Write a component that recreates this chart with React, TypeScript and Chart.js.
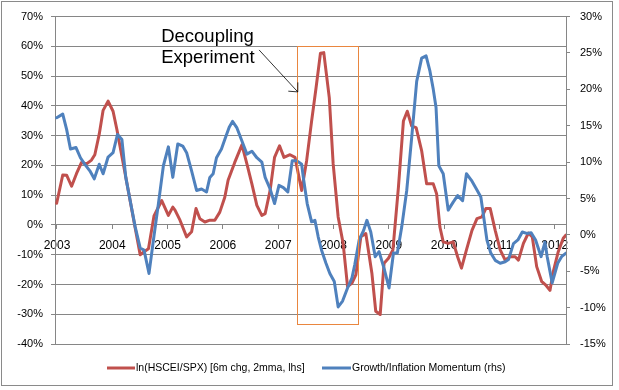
import React, { useEffect, useRef } from 'react';
import { Chart, registerables } from 'chart.js';

Chart.register(...registerables);

// ---- data ----
const yearTicks = [2003, 2004, 2005, 2006, 2007, 2008, 2009, 2010, 2011, 2012];

const hsceiDates = [
  2003.03, 2003.14, 2003.21, 2003.30, 2003.39, 2003.48, 2003.57, 2003.66, 2003.72, 2003.80, 2003.87, 2003.96,
  2004.05, 2004.12, 2004.28, 2004.36, 2004.45, 2004.54, 2004.61, 2004.69, 2004.79, 2004.93,
  2005.05, 2005.13, 2005.17, 2005.26, 2005.38, 2005.47, 2005.55, 2005.62, 2005.71, 2005.80, 2005.89, 2005.98,
  2006.07, 2006.13, 2006.25, 2006.38, 2006.47, 2006.56, 2006.65, 2006.74, 2006.80, 2006.89, 2006.97,
  2007.06, 2007.14, 2007.25, 2007.34, 2007.46, 2007.55, 2007.64, 2007.72, 2007.80, 2007.86, 2007.96,
  2008.03, 2008.12, 2008.21, 2008.29, 2008.37, 2008.44, 2008.53, 2008.62, 2008.73, 2008.80, 2008.88, 2008.95,
  2009.03, 2009.11, 2009.21, 2009.30, 2009.37, 2009.45, 2009.53, 2009.63, 2009.72, 2009.84, 2009.90, 2009.96,
  2010.02, 2010.11, 2010.20, 2010.28, 2010.35, 2010.44, 2010.54, 2010.63, 2010.72, 2010.79, 2010.87, 2010.96,
  2011.05, 2011.14, 2011.23, 2011.32, 2011.38, 2011.47, 2011.56, 2011.63, 2011.71, 2011.80, 2011.87, 2011.95,
  2012.01, 2012.10, 2012.19, 2012.24,
];
const hsceiValues = [
  7.3, 16.8, 16.7, 13, 17.3, 21, 20.5, 21.8, 23.6, 30.5, 38.5, 41.6,
  38.2, 32, 16, 8, -1, -10, -9, -8, 3, 8.2,
  3.2, 6, 5, 1.6, -4, -2.3, 5.5, 2.1, 1, 1.6, 1.6, 4.3,
  9.3, 15, 21, 26.9, 20.5, 13.8, 6.6, 3.2, 3.8, 11.6, 22.7,
  26.6, 22.7, 23.6, 22.7, 11.6, 21.6, 34.9, 46, 57.7, 57.9, 42.7,
  20.5, 2.7, -6.2, -20.7, -19.5, -16.8, -4, -2.9, -16.2, -29, -30.1, -12.9,
  -11.2, -8.4, 12.7, 34.9, 38.2, 33.2, 32.7, 24.9, 13.8, 13.8, 10.5, -0.7,
  -5.7, -6.2, -5.7, -10.7, -14.5, -8.4, -1.8, 2.1, 2.7, 5.5, 5.5, -1.8,
  -8.4, -11.8, -10.7, -10.7, -11.8, -6.2, -2.7, -4, -14, -19, -20.1, -22,
  -15.7, -9, -4.5, -3.4,
];

const momentumDates = [
  2003.03, 2003.14, 2003.21, 2003.28, 2003.38, 2003.46, 2003.54, 2003.63, 2003.71, 2003.80, 2003.87, 2003.96,
  2004.05, 2004.13, 2004.21, 2004.28, 2004.36, 2004.45, 2004.54, 2004.61, 2004.70, 2004.78, 2004.87, 2004.96,
  2005.05, 2005.13, 2005.22, 2005.31, 2005.38, 2005.47, 2005.56, 2005.65, 2005.74, 2005.80, 2005.86, 2005.92,
  2006.01, 2006.07, 2006.15, 2006.21, 2006.29, 2006.38, 2006.47, 2006.56, 2006.65, 2006.74, 2006.80, 2006.89, 2006.97,
  2007.05, 2007.13, 2007.21, 2007.29, 2007.37, 2007.46, 2007.49, 2007.56, 2007.64, 2007.70, 2007.76, 2007.82, 2007.90, 2007.97,
  2008.05, 2008.12, 2008.20, 2008.29, 2008.37, 2008.42, 2008.50, 2008.58, 2008.64, 2008.71, 2008.79, 2008.86, 2008.95,
  2009.04, 2009.12, 2009.19, 2009.27, 2009.36, 2009.45, 2009.54, 2009.63, 2009.71, 2009.78, 2009.84, 2009.89, 2009.94,
  2010.02, 2010.11, 2010.20, 2010.28, 2010.37, 2010.44, 2010.53, 2010.62, 2010.70, 2010.76, 2010.81, 2010.88, 2010.96,
  2011.05, 2011.14, 2011.20, 2011.29, 2011.37, 2011.45, 2011.53, 2011.61, 2011.69, 2011.79, 2011.86, 2011.90, 2011.99,
  2012.09, 2012.16, 2012.24,
];
const momentumValues = [
  16.1, 16.6, 14.5, 11.8, 12, 10.6, 9.7, 8.8, 7.7, 9.7, 8.4, 10.7,
  11.3, 13.8, 13.1, 7.9, 4.7, 1.1, -1.8, -2.1, -5.3, -0.7, 4.3, 9.5,
  12.1, 7.9, 12.5, 12.2, 11.3, 8.8, 6.1, 6.3, 5.9, 7.9, 8.4, 10.6,
  11.8, 13.1, 14.8, 15.6, 14.7, 12.9, 11.1, 11.5, 10.6, 10, 7.9, 6.3, 4.3,
  6.8, 6.5, 5.9, 10.2, 10.2, 9.7, 7.9, 4.3, 1.8, 2, -0.3, -2.1, -3.9, -5.3,
  -6.4, -9.9, -9.1, -7.3, -5.9, -4.1, -0.7, 0.6, 2, 0.4, -3, -2.3, -4.6,
  -7.3, -2.5, -2.5, 1.1, 6.1, 13.4, 21.1, 24.3, 24.6, 22.5, 20, 17.5, 9.5,
  8.4, 3.4, 4.5, 5.4, 4.7, 8.4, 7.5, 6.3, 5.2, 2, -0.7, -2.5, -3.5,
  -3.9, -3.7, -3.4, -1.2, -0.7, 0.4, 0.2, 0.3, -0.7, -3, -1, -3, -6.6,
  -3.9, -3, -2.5,
];

const seriesNames = ['ln(HSCEI/SPX) [6m chg, 2mma, lhs]', 'Growth/Inflation Momentum (rhs)'];
const annotationLines = ['Decoupling', 'Experiment'];

// annotation anchors (data units: decimal year, left-axis %)
const boxRange = { x0: 2007.38, x1: 2008.48, yTop: 60.1, yBottom: -33.4 };
const textAnchor = { x: 2004.92, y1: 61.5, y2: 54.3 };
const arrowFrom = { x: 2006.69, y: 58.8 };
const arrowTo = { x: 2007.39, y: 44.7 };

const RED = '#C0504D';
const BLUE = '#4F81BD';
const GRID = '#868686';
const FONT = '"Liberation Sans", Arial, sans-serif';

const toPoints = (xs: number[], ys: number[]) =>
  xs.slice(0, Math.min(xs.length, ys.length)).map((x, i) => ({ x, y: ys[i] }));

const framePlugin = {
  id: 'frame',
  beforeDraw(chart: any) {
    const { ctx } = chart;
    ctx.save();
    ctx.strokeStyle = '#8a8a8a';
    ctx.lineWidth = 1;
    ctx.strokeRect(1.5, 1.5, 611, 384);
    ctx.restore();
  },
};

const annotationPlugin = {
  id: 'decoupling',
  afterDatasetsDraw(chart: any) {
    const { ctx } = chart;
    const xs = chart.scales.x;
    const ys = chart.scales.y;
    const px = (v: number) => Math.round(xs.getPixelForValue(v)) + 0.5;
    const py = (v: number) => Math.round(ys.getPixelForValue(v)) + 0.5;
    ctx.save();
    ctx.strokeStyle = '#E9863F';
    ctx.lineWidth = 1;
    const bx0 = px(boxRange.x0), bx1 = px(boxRange.x1);
    const by0 = py(boxRange.yTop), by1 = py(boxRange.yBottom);
    ctx.strokeRect(bx0, by0, bx1 - bx0, by1 - by0);
    ctx.fillStyle = '#000';
    ctx.font = '18.5px ' + FONT;
    ctx.textAlign = 'left';
    ctx.textBaseline = 'alphabetic';
    ctx.fillText(annotationLines[0], xs.getPixelForValue(textAnchor.x), ys.getPixelForValue(textAnchor.y1));
    ctx.fillText(annotationLines[1], xs.getPixelForValue(textAnchor.x), ys.getPixelForValue(textAnchor.y2));
    const ax0 = xs.getPixelForValue(arrowFrom.x), ay0 = ys.getPixelForValue(arrowFrom.y);
    const ax1 = xs.getPixelForValue(arrowTo.x), ay1 = ys.getPixelForValue(arrowTo.y);
    ctx.strokeStyle = '#000';
    ctx.lineWidth = 0.8;
    ctx.beginPath();
    ctx.moveTo(ax0, ay0);
    ctx.lineTo(ax1, ay1);
    const ang = Math.atan2(ay1 - ay0, ax1 - ax0);
    const len = 9.5;
    const spread = 0.75;
    ctx.moveTo(ax1 - len * Math.cos(ang - spread), ay1 - len * Math.sin(ang - spread));
    ctx.lineTo(ax1, ay1);
    ctx.lineTo(ax1 - len * Math.cos(ang + spread), ay1 - len * Math.sin(ang + spread));
    ctx.stroke();
    ctx.restore();
  },
};

const legendPlugin = {
  id: 'customLegend',
  afterDraw(chart: any) {
    const { ctx } = chart;
    const y = 368;
    const items = [
      { color: RED, x: 107, w: 28, label: seriesNames[0] },
      { color: BLUE, x: 322, w: 29, label: seriesNames[1] },
    ];
    ctx.save();
    ctx.textBaseline = 'middle';
    ctx.textAlign = 'left';
    ctx.font = '10.5px ' + FONT;
    items.forEach((it) => {
      ctx.strokeStyle = it.color;
      ctx.lineWidth = 3;
      ctx.beginPath();
      ctx.moveTo(it.x, y);
      ctx.lineTo(it.x + it.w, y);
      ctx.stroke();
      ctx.fillStyle = '#000';
      ctx.fillText(it.label, it.x + it.w + 1, y);
    });
    ctx.restore();
  },
};

export default function App() {
  const ref = useRef<HTMLCanvasElement | null>(null);

  useEffect(() => {
    if (!ref.current) return;
    const chart = new Chart(ref.current, {
      type: 'line',
      data: {
        datasets: [
          {
            label: seriesNames[0],
            data: toPoints(hsceiDates, hsceiValues),
            borderColor: RED,
            backgroundColor: RED,
            yAxisID: 'y',
            order: 1,
          },
          {
            label: seriesNames[1],
            data: toPoints(momentumDates, momentumValues),
            borderColor: BLUE,
            backgroundColor: BLUE,
            yAxisID: 'y1',
            order: 0,
          },
        ],
      },
      options: {
        animation: false,
        responsive: false,
        parsing: false,
        layout: { padding: { top: 15, bottom: 46, left: 0, right: 0 } },
        elements: {
          point: { radius: 0, hoverRadius: 0 },
          line: { borderWidth: 3, tension: 0, borderJoinStyle: 'round', borderCapStyle: 'round' },
        },
        plugins: { legend: { display: false }, tooltip: { enabled: false } },
        scales: {
          x: {
            type: 'linear',
            position: { y: 0 } as any,
            min: 2003,
            max: 2012.24,
            afterBuildTicks: (scale: any) => {
              scale.ticks = yearTicks.map((v) => ({ value: v + 0.036 }));
            },
            ticks: {
              autoSkip: false,
              maxRotation: 0,
              color: '#000',
              padding: 10,
              font: { family: FONT, size: 12 },
              callback: (v: any) => String(Math.floor(Number(v))),
            },
            grid: { drawOnChartArea: false, drawTicks: true, tickLength: 4, color: GRID },
            border: { color: GRID, width: 1 },
          },
          y: {
            position: 'left',
            min: -40,
            max: 70,
            afterFit: (s: any) => {
              s.width = 55;
            },
            ticks: {
              stepSize: 10,
              color: '#000',
              padding: 8,
              font: { family: FONT, size: 11 },
              callback: (v: any) => v + '%',
            },
            grid: { color: GRID, tickLength: 4 },
            border: { color: GRID, width: 1 },
          },
          y1: {
            position: 'right',
            min: -15,
            max: 30,
            afterFit: (s: any) => {
              s.width = 53;
            },
            ticks: {
              stepSize: 5,
              color: '#000',
              padding: 10,
              font: { family: FONT, size: 11 },
              callback: (v: any) => v + '%',
            },
            grid: { drawOnChartArea: false, color: GRID, tickLength: 4 },
            border: { color: GRID, width: 1 },
          },
        },
      },
      plugins: [framePlugin, annotationPlugin, legendPlugin],
    } as any);
    return () => chart.destroy();
  }, []);

  return (
    <div style={{ position: 'absolute', left: 0, top: 0, width: 619, height: 390, background: '#fff' }}>
      <canvas ref={ref} width={619} height={390} style={{ display: 'block' }} />
    </div>
  );
}
